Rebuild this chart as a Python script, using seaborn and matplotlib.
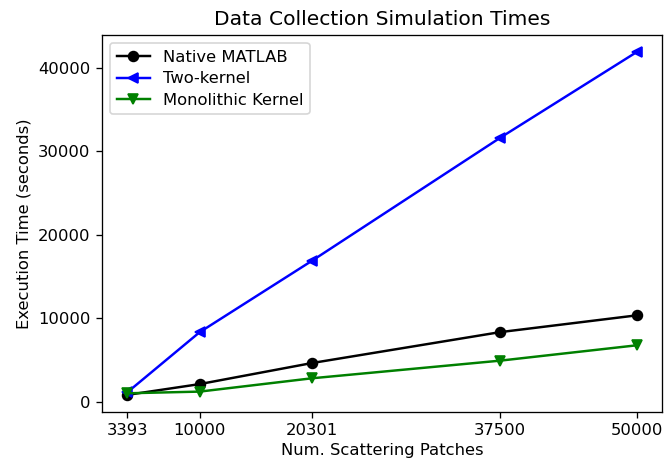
import matplotlib
matplotlib.use("Agg")
import matplotlib.pyplot as plt
import seaborn as sns

# Number of scattering patches simulated
patches = [3393, 10000, 20301, 37500, 50000]

# Execution times in seconds
native_matlab = [810, 2100, 4630, 8330, 10340]
two_kernel = [1130, 8320, 16900, 31620, 41900]
monolithic_kernel = [1000, 1200, 2800, 4910, 6750]

series_names = ["Native MATLAB", "Two-kernel", "Monolithic Kernel"]
series_values = [native_matlab, two_kernel, monolithic_kernel]
series_colors = ["black", "blue", "green"]
series_markers = ["o", "<", "v"]

DPI = 118
fig = plt.figure(figsize=(669 / DPI, 465 / DPI), dpi=DPI)
ax = fig.add_axes([102 / 669, 1 - 412 / 465, 560 / 669, 377 / 465])

for name, vals, col, mk in zip(series_names, series_values, series_colors, series_markers):
    sns.lineplot(x=patches, y=vals, ax=ax, color=col, marker=mk,
                 markersize=6, markeredgecolor=col, markeredgewidth=1.0,
                 linewidth=1.5, label=name)

ax.set_xticks(patches)
ax.set_xticklabels([str(p) for p in patches])
ax.set_title("Data Collection Simulation Times", fontsize=12.4)
ax.set_xlabel("Num. Scattering Patches", labelpad=3)
ax.set_ylabel("Execution Time (seconds)")
ax.legend(loc="upper left", labelspacing=0.4)

fig.savefig("out.png", dpi=DPI)
